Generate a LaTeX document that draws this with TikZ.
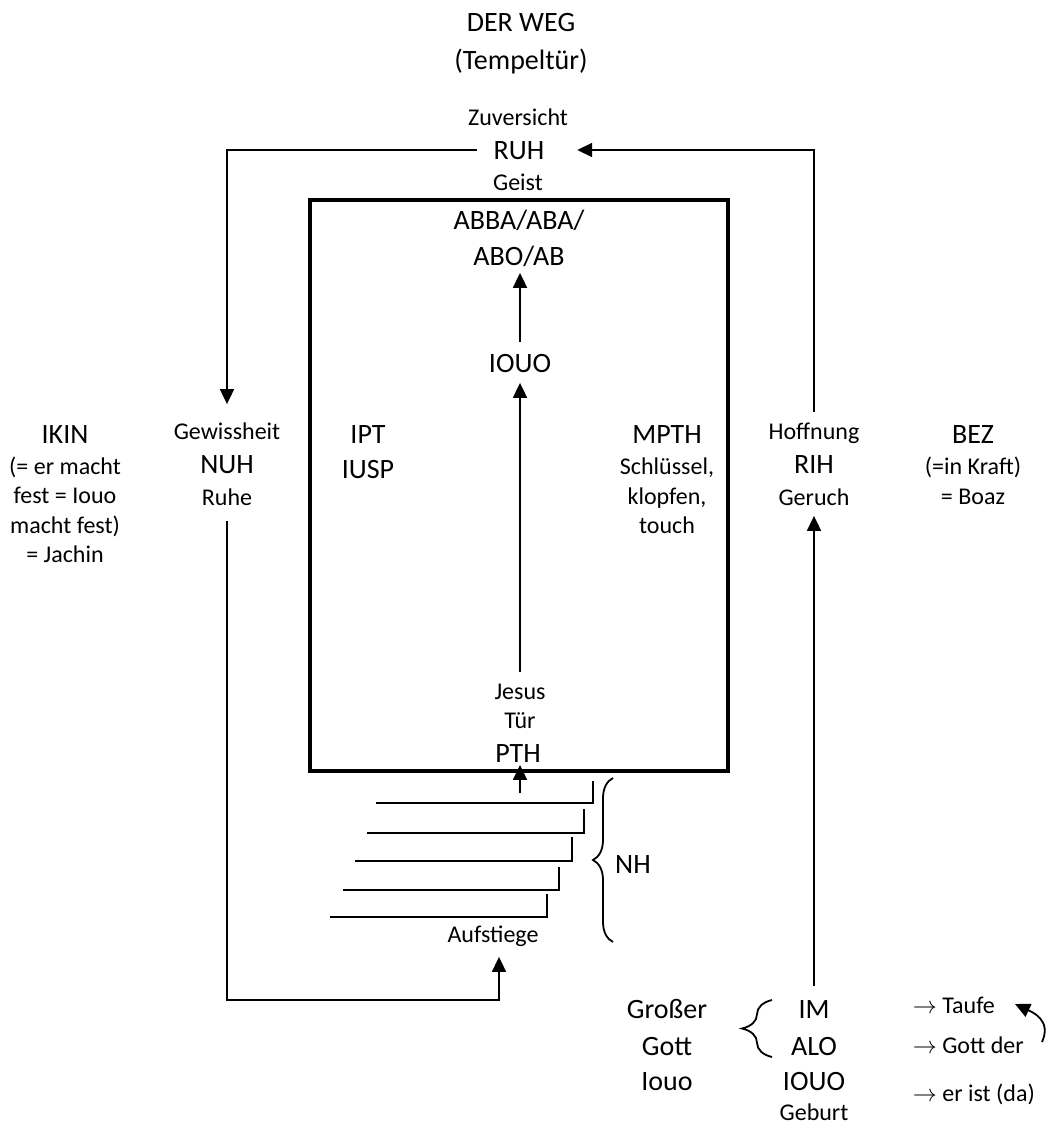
\documentclass[tikz,border=0pt]{standalone}
\usepackage{fontspec}
\setmainfont{Carlito}
\usetikzlibrary{arrows.meta, decorations.pathreplacing}

\begin{document}
\begin{tikzpicture}[x=0.5pt, y=-0.5pt, line width=0.9pt,
                    >={Triangle[length=7.5pt, width=7pt]}]

        % Setup the styles for the labels
        \tikzset{big/.style={font=\fontsize{14}{17}\selectfont,
                             anchor=base, inner sep=0pt,
                             text height=9pt, text depth=0pt},
                 small/.style={font=\fontsize{12}{14.5}\selectfont,
                               anchor=base, inner sep=0pt,
                               text height=8pt, text depth=0pt}}

        \useasboundingbox (0, 0) rectangle (1048, 1124);

        % Title
        \node[big]   at (521, 32)    (Weg)    {DER WEG};
        \node[big]   at (521, 69)    (Tempel) {(Tempeltür)};

        % Top of the way
        \node[small] at (518, 125)   (Zuv)    {Zuversicht};
        \node[big, inner xsep=8pt]
                     at (519, 159)   (RUH)    {RUH};
        \node[small] at (518, 190)   (Geist)  {Geist};

        % The temple door
        \draw[line width=1.8pt] (310, 200) rectangle (728, 771);
        \node[big]   at (519, 229)   (ABBA)   {ABBA/ABA/};
        \node[big]   at (519, 265)   (ABO)    {ABO/AB};
        \node[big]   at (520, 372)   (IOUO)   {IOUO};
        \node[big]   at (368, 443)   (IPT)    {IPT};
        \node[big]   at (368, 478)   (IUSP)   {IUSP};
        \node[big]   at (667, 443)   (MPTH)   {MPTH};
        \node[small] at (667, 474)   (Schl)   {Schlüssel,};
        \node[small] at (667, 504)   (Klopf)  {klopfen,};
        \node[small] at (667, 533)   (Touch)  {touch};
        \node[small] at (520, 699)   (Jesus)  {Jesus};
        \node[small] at (520, 728)   (Tuer)   {Tür};
        \node[big]   at (518, 762)   (PTH)    {PTH};

        % Left pillar
        \node[big]   at (65, 443)    (IKIN)   {IKIN};
        \node[small] at (65, 474)    (Ik1)    {(= er macht};
        \node[small] at (65, 503)    (Ik2)    {fest = Iouo};
        \node[small] at (65, 533)    (Ik3)    {macht fest)};
        \node[small] at (65, 562)    (Ik4)    {= Jachin};
        \node[small] at (227, 439)   (Gew)    {Gewissheit};
        \node[big]   at (227, 473)   (NUH)    {NUH};
        \node[small] at (227, 505)   (Ruhe)   {Ruhe};

        % Right pillar
        \node[small] at (814, 439)   (Hoff)   {Hoffnung};
        \node[big]   at (814, 473)   (RIH)    {RIH};
        \node[small] at (814, 505)   (Geruch) {Geruch};
        \node[big]   at (973, 443)   (BEZ)    {BEZ};
        \node[small] at (973, 474)   (Kraft)  {(=in Kraft)};
        \node[small] at (973, 504)   (Boaz)   {= Boaz};

        % The steps
        \foreach \y/\xl/\xr/\yt in {803/376/593/781, 833/367/584/809,
                                     861/355/572/837, 890/343/559/867,
                                     917/330/547/894}
            \draw (\xl, \y) -- (\xr, \y) -- (\xr, \yt);
        \node[small] at (493, 942)   (Auf)    {Aufstiege};
        \draw[decorate, decoration={brace, amplitude=10pt}]
            (613, 942) -- (613, 778);
        \node[big]   at (633, 873)   (NH)     {NH};

        % Bottom names
        \node[big]   at (667, 1018)  (Gross)  {Großer};
        \node[big]   at (667, 1055)  (Gott)   {Gott};
        \node[big]   at (667, 1090)  (Iouo)   {Iouo};
        \draw[decorate, decoration={brace, amplitude=15pt}]
            (772, 1057) -- (772, 1000);
        \node[big]   at (814, 1018)  (IM)     {IM};
        \node[big]   at (814, 1055)  (ALO)    {ALO};
        \node[big]   at (814, 1090)  (IOUOb)  {IOUO};
        \node[small] at (814, 1120)  (Geburt) {Geburt};
        \node[small, anchor=base west]
                     at (912, 1013)  (Taufe)  {$\rightarrow$ Taufe};
        \node[small, anchor=base west]
                     at (912, 1053)  (GDer)   {$\rightarrow$ Gott der};
        \node[small, anchor=base west]
                     at (912, 1101)  (Ist)    {$\rightarrow$ er ist (da)};

        % Free ends of the connectors
        \coordinate (Door)  at (520, 793);
        \coordinate (Foot)  at (499, 1000);
        \coordinate (CurlA) at (1042, 1042);
        \coordinate (CurlB) at (1015, 1004);

        % Connect the labels with arrows
        \draw[->, shorten >=9pt] (RUH.west) -| (Gew.north);
        \draw[->, shorten <=5pt, shorten >=8pt] (Hoff.north) |- (RUH.east);
        \draw[->, shorten <=6.5pt, shorten >=5pt] (IM.north) -- (Geruch.south);
        \draw[->, shorten <=5pt, shorten >=5pt] (Jesus.north) -- (IOUO.south);
        \draw[->, shorten <=5.5pt, shorten >=3.5pt]
            (IOUO.north) -- (IOUO.north |- ABO.south);
        \draw[->, shorten >=1pt] (Door) -- (Door |- PTH.south);
        \draw[->, shorten <=7.5pt, shorten >=7pt]
            (Ruhe.south) |- (Foot) -- (Foot |- Auf.south);
        \draw[->] (CurlA) .. controls (1052, 1020) and (1032, 1012) .. (CurlB);
    \end{tikzpicture}
\end{document}
